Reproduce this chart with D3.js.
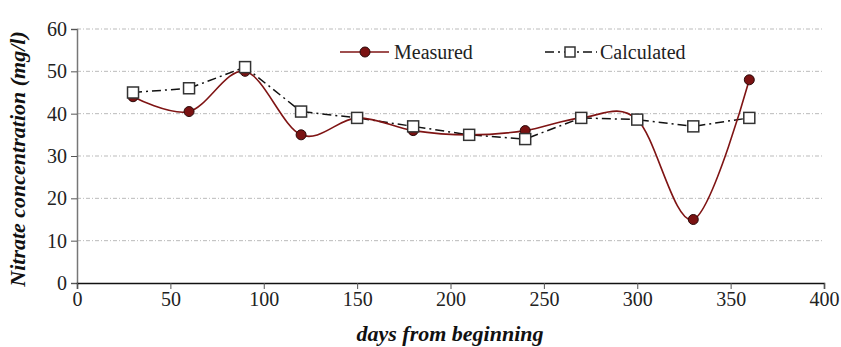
<!DOCTYPE html>
<html>
<head>
<meta charset="utf-8">
<script src="https://cdn.jsdelivr.net/npm/d3@7"></script>
</head>
<body style="margin:0">
<div id="vis"></div>
<script>
const FRAME_WIDTH = 841;
const FRAME_HEIGHT = 347;
const MARGINS = {left: 77, right: 17, top: 29, bottom: 64};
const SERIF = "Tinos";

// data
const days = [30, 60, 90, 120, 150, 180, 210, 240, 270, 300, 330, 360];
const measured = [44, 40.5, 50, 35, 39, 36, 35, 36, 39, 38.6, 15, 48];
const calculated = [45, 46, 51, 40.5, 39, 37, 35, 34, 39, 38.6, 37, 39];
const xTicks = [0, 50, 100, 150, 200, 250, 300, 350, 400];
const yTicks = [0, 10, 20, 30, 40, 50, 60];

const VIS_WIDTH = FRAME_WIDTH - MARGINS.left - MARGINS.right;
const VIS_HEIGHT = FRAME_HEIGHT - MARGINS.top - MARGINS.bottom;

const FRAME = d3.select("#vis")
  .append("svg")
    .attr("width", FRAME_WIDTH)
    .attr("height", FRAME_HEIGHT);

const X_SCALE = d3.scaleLinear().domain([0, 400]).range([0, VIS_WIDTH]);
const Y_SCALE = d3.scaleLinear().domain([0, 60]).range([VIS_HEIGHT, 0]);

// all labels go through one helper so each text gets its font directly
function label(sel, size) {
  return sel.attr("font-family", SERIF)
    .attr("font-size", size)
    .attr("fill", "#222");
}

const g = FRAME.append("g")
  .attr("transform", "translate(" + MARGINS.left + "," + MARGINS.top + ")");

// gridlines
g.selectAll(".grid")
  .data(yTicks.filter(d => d > 0))
  .enter()
  .append("line")
    .attr("x1", 0)
    .attr("x2", VIS_WIDTH)
    .attr("y1", d => Y_SCALE(d))
    .attr("y2", d => Y_SCALE(d))
    .attr("stroke", "#bbb")
    .attr("stroke-width", 1)
    .attr("stroke-dasharray", "4,2,1,2");

// y axis
const yAxis = g.append("g")
  .call(d3.axisLeft(Y_SCALE).tickValues(yTicks).tickSize(6).tickPadding(4));
yAxis.attr("font-family", SERIF);
yAxis.select(".domain").attr("stroke", "#777").attr("stroke-width", 1.5);
yAxis.selectAll(".tick line").attr("stroke", "#555");
label(yAxis.selectAll(".tick text"), 20);

// x axis
const xAxis = g.append("g")
  .attr("transform", "translate(0," + VIS_HEIGHT + ")")
  .call(d3.axisBottom(X_SCALE).tickValues(xTicks).tickSize(6).tickPadding(3));
xAxis.attr("font-family", SERIF);
xAxis.select(".domain").attr("stroke", "#111").attr("stroke-width", 1.5);
xAxis.selectAll(".tick line").attr("stroke", "#555");
label(xAxis.selectAll(".tick text"), 20);

// axis titles
label(FRAME.append("text"), 22)
  .attr("x", 450)
  .attr("y", 341)
  .attr("text-anchor", "middle")
  .attr("font-weight", "bold")
  .attr("font-style", "italic")
  .attr("fill", "#111")
  .text("days from beginning");

label(FRAME.append("text"), 22)
  .attr("transform", "translate(25," + (MARGINS.top + VIS_HEIGHT / 2 + 3) + ") rotate(-90)")
  .attr("text-anchor", "middle")
  .attr("font-weight", "bold")
  .attr("font-style", "italic")
  .attr("fill", "#111")
  .text("Nitrate concentration (mg/l)");

// lines
const lineMeasured = d3.line()
  .x((d, i) => X_SCALE(days[i]))
  .y(d => Y_SCALE(d))
  .curve(d3.curveCardinal.tension(0));

const lineCalc = d3.line()
  .x((d, i) => X_SCALE(days[i]))
  .y(d => Y_SCALE(d));

g.append("path")
  .attr("d", lineCalc(calculated))
  .attr("fill", "none")
  .attr("stroke", "#111")
  .attr("stroke-width", 1.5)
  .attr("stroke-dasharray", "9,4,2,4");

g.append("path")
  .attr("d", lineMeasured(measured))
  .attr("fill", "none")
  .attr("stroke", "#7f1414")
  .attr("stroke-width", 1.6);

// markers
g.selectAll(".pt")
  .data(measured)
  .enter()
  .append("circle")
    .attr("cx", (d, i) => X_SCALE(days[i]))
    .attr("cy", d => Y_SCALE(d))
    .attr("r", 5)
    .attr("fill", "#7a1212")
    .attr("stroke", "#2a0a0a")
    .attr("stroke-width", 1);

g.selectAll(".sq")
  .data(calculated)
  .enter()
  .append("rect")
    .attr("x", (d, i) => X_SCALE(days[i]) - 5.5)
    .attr("y", d => Y_SCALE(d) - 5.5)
    .attr("width", 11)
    .attr("height", 11)
    .attr("fill", "#fff")
    .attr("stroke", "#333")
    .attr("stroke-width", 1.5);

// legend
FRAME.append("line")
  .attr("x1", 340).attr("x2", 389).attr("y1", 52).attr("y2", 52)
  .attr("stroke", "#7f1414").attr("stroke-width", 1.6);
FRAME.append("circle")
  .attr("cx", 365).attr("cy", 52).attr("r", 5)
  .attr("fill", "#7a1212").attr("stroke", "#2a0a0a");
label(FRAME.append("text"), 20)
  .attr("x", 394).attr("y", 59)
  .text("Measured");

FRAME.append("line")
  .attr("x1", 545).attr("x2", 597).attr("y1", 52).attr("y2", 52)
  .attr("stroke", "#111").attr("stroke-width", 1.5)
  .attr("stroke-dasharray", "9,4,2,4");
FRAME.append("rect")
  .attr("x", 565).attr("y", 47).attr("width", 10).attr("height", 10)
  .attr("fill", "#fff").attr("stroke", "#333").attr("stroke-width", 1.5);
label(FRAME.append("text"), 20)
  .attr("x", 600).attr("y", 59)
  .text("Calculated");
</script>
</body>
</html>
